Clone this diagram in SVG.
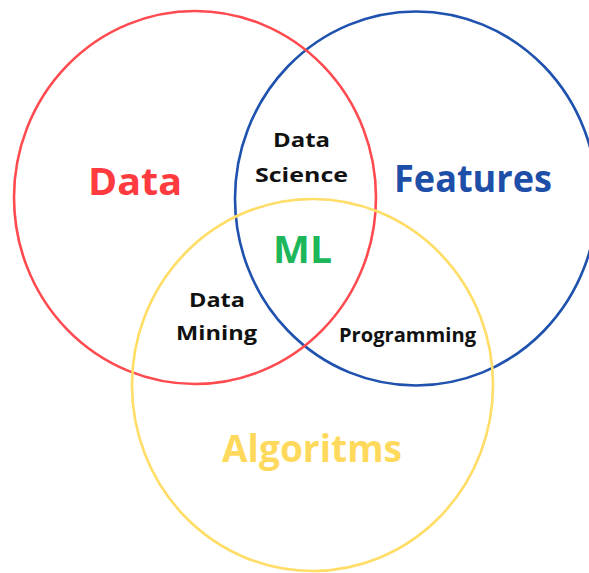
<svg xmlns="http://www.w3.org/2000/svg" width="589" height="573" viewBox="0 0 589 573">
  <style>
    .ring { fill: none; stroke-width: 2.6; }
    .label { font-family: "Open Sans", "Liberation Sans", sans-serif; font-weight: 700; text-anchor: middle; }
    .big { font-size: 38px; }
    .small { font-size: 20px; fill: #111111; }
  </style>
  <rect width="589" height="573" fill="#ffffff"/>

  <g id="features">
    <ellipse class="ring" cx="416" cy="198.5" rx="181" ry="187" stroke="#1F51AE"/>
    <text class="label big" x="473" y="192" font-size="34" textLength="158" lengthAdjust="spacingAndGlyphs" fill="#1E4FA8">Features</text>
  </g>

  <g id="data">
    <ellipse class="ring" cx="195" cy="197.5" rx="181" ry="186.5" stroke="#FF4A4F"/>
    <text class="label big" x="135" y="195" textLength="94" lengthAdjust="spacingAndGlyphs" fill="#FF3B3F">Data</text>
  </g>

  <g id="algoritms">
    <ellipse class="ring" cx="312.5" cy="385" rx="180.5" ry="186" stroke="#FFDD66"/>
    <text class="label big" x="312" y="462" font-size="35" textLength="180" lengthAdjust="spacingAndGlyphs" fill="#FFD95C">Algoritms</text>
  </g>

  <g id="data-science">
    <text class="label small" x="301.5" y="147" textLength="57" lengthAdjust="spacingAndGlyphs">Data</text>
    <text class="label small" x="301.5" y="182" textLength="93" lengthAdjust="spacingAndGlyphs">Science</text>
  </g>

  <g id="ml">
    <text class="label big" x="302.5" y="263" textLength="59" lengthAdjust="spacingAndGlyphs" fill="#1DB75A">ML</text>
  </g>

  <g id="data-mining">
    <text class="label small" x="217" y="307" textLength="56" lengthAdjust="spacingAndGlyphs">Data</text>
    <text class="label small" x="216.5" y="340" textLength="81" lengthAdjust="spacingAndGlyphs">Mining</text>
  </g>

  <g id="programming">
    <text class="label small" x="407.5" y="342" font-size="19" textLength="137" lengthAdjust="spacingAndGlyphs">Programming</text>
  </g>
</svg>
